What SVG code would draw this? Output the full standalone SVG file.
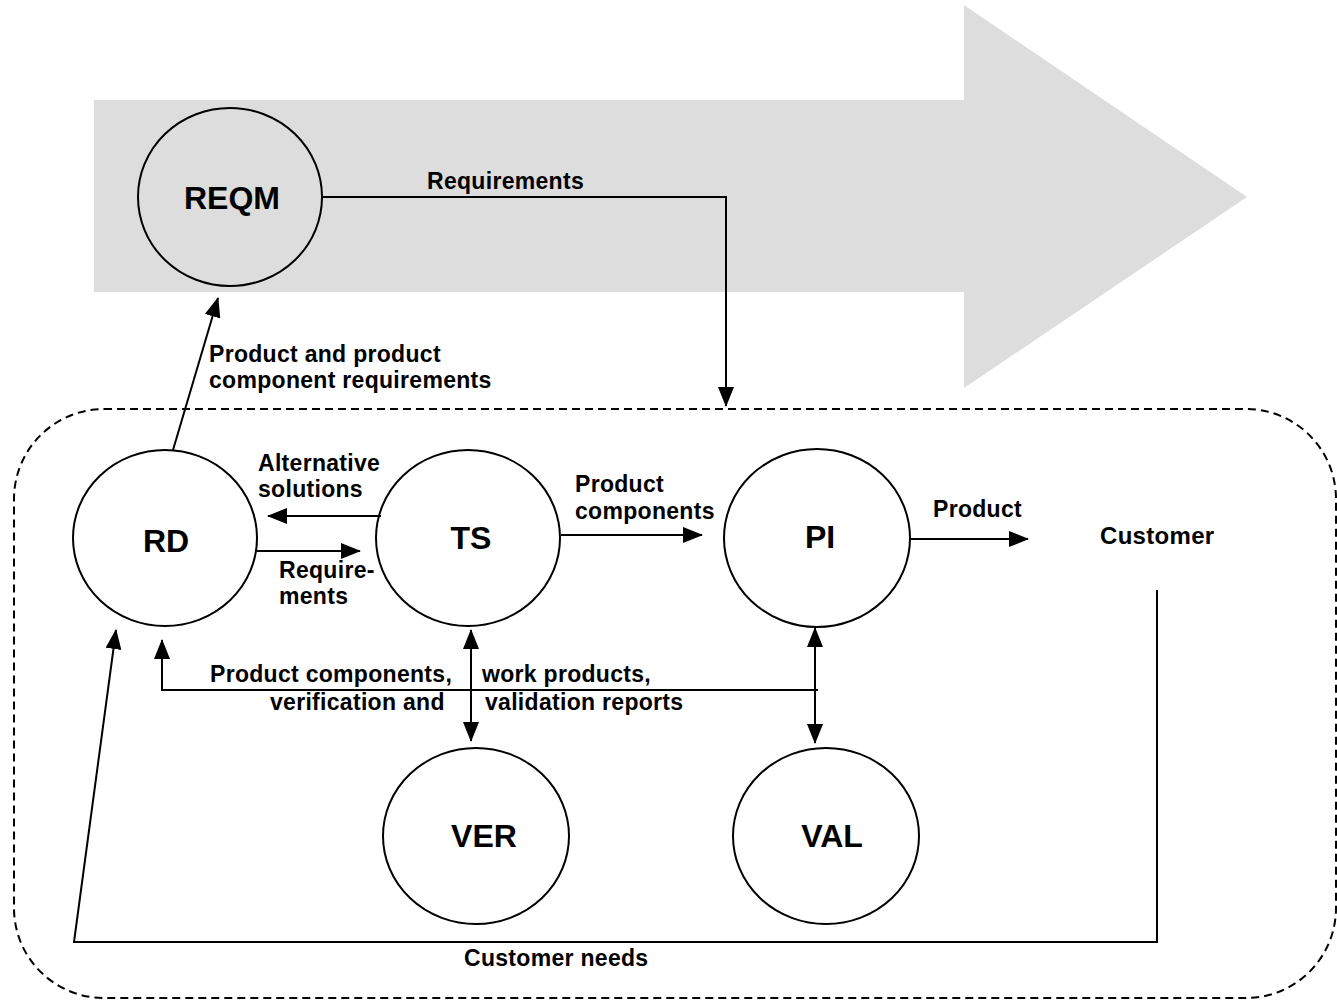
<svg xmlns="http://www.w3.org/2000/svg" width="1337" height="1000" viewBox="0 0 1337 1000">
<style>
.node{fill:none;stroke:#000;stroke-width:2}
.nl{font-family:"Liberation Sans",Arial,sans-serif;font-weight:bold;font-size:32px;text-anchor:middle;fill:#000}
.lb{font-family:"Liberation Sans",Arial,sans-serif;font-weight:bold;font-size:23px;letter-spacing:0.3px;fill:#000}
.c{fill:none;stroke:#000;stroke-width:2}
</style>
<defs>
<marker id="ah" viewBox="0 0 20 16" refX="19" refY="8" markerWidth="20" markerHeight="16" markerUnits="userSpaceOnUse" orient="auto-start-reverse">
<path d="M0,0 L20,8 L0,16 Z" fill="#000"/>
</marker>
</defs>
<rect width="1337" height="1000" fill="#fff"/>
<g id="flow-arrow">
<polygon points="94,100 964,100 964,5 1247,197 964,388 964,292 94,292" fill="#DDDDDD"/>
</g>
<g id="boundary">
<rect x="14" y="409" width="1322" height="589" rx="90" ry="90" fill="none" stroke="#000" stroke-width="2" stroke-dasharray="8,5"/>
</g>
<g id="REQM">
<ellipse class="node" cx="230" cy="197" rx="92" ry="89"/>
<text class="nl" x="232" y="209">REQM</text>
</g>
<g id="RD">
<ellipse class="node" cx="165" cy="538" rx="92" ry="88"/>
<text class="nl" x="166" y="552">RD</text>
</g>
<g id="TS">
<ellipse class="node" cx="468" cy="538" rx="92" ry="88"/>
<text class="nl" x="471" y="549">TS</text>
</g>
<g id="PI">
<ellipse class="node" cx="817" cy="538" rx="93" ry="89"/>
<text class="nl" x="820" y="548">PI</text>
</g>
<g id="VER">
<ellipse class="node" cx="476" cy="836" rx="93" ry="88"/>
<text class="nl" x="484" y="847">VER</text>
</g>
<g id="VAL">
<ellipse class="node" cx="826" cy="836" rx="93" ry="88"/>
<text class="nl" x="832" y="847">VAL</text>
</g>
<g id="Customer">
<text class="lb" x="1100" y="544" style="font-size:24px">Customer</text>
</g>
<g id="connectors">
<path class="c" d="M323,197 H726 V406" marker-end="url(#ah)"/>
<path class="c" d="M173,450 L218,298" marker-end="url(#ah)"/>
<path class="c" d="M381,516 H268" marker-end="url(#ah)"/>
<path class="c" d="M257,551 H360" marker-end="url(#ah)"/>
<path class="c" d="M561,535 H702" marker-end="url(#ah)"/>
<path class="c" d="M910,539 H1028" marker-end="url(#ah)"/>
<path class="c" d="M471,630 V741" marker-start="url(#ah)" marker-end="url(#ah)"/>
<path class="c" d="M815,628 V743" marker-start="url(#ah)" marker-end="url(#ah)"/>
<path class="c" d="M818,690 H162 V640" marker-end="url(#ah)"/>
<path class="c" d="M1157,590 V942 H74 L116,630" marker-end="url(#ah)"/>
</g>
<g id="labels">
<text class="lb" x="427" y="189">Requirements</text>
<text class="lb" x="209" y="362">Product and product</text>
<text class="lb" x="209" y="388">component requirements</text>
<text class="lb" x="258" y="471">Alternative</text>
<text class="lb" x="258" y="497">solutions</text>
<text class="lb" x="279" y="578">Require-</text>
<text class="lb" x="279" y="604">ments</text>
<text class="lb" x="575" y="492">Product</text>
<text class="lb" x="575" y="519">components</text>
<text class="lb" x="933" y="517">Product</text>
<text class="lb" x="210" y="682">Product components,</text>
<text class="lb" x="270" y="710">verification and</text>
<text class="lb" x="482" y="682">work products,</text>
<text class="lb" x="485" y="710">validation reports</text>
<text class="lb" x="464" y="966">Customer needs</text>
</g>
</svg>
